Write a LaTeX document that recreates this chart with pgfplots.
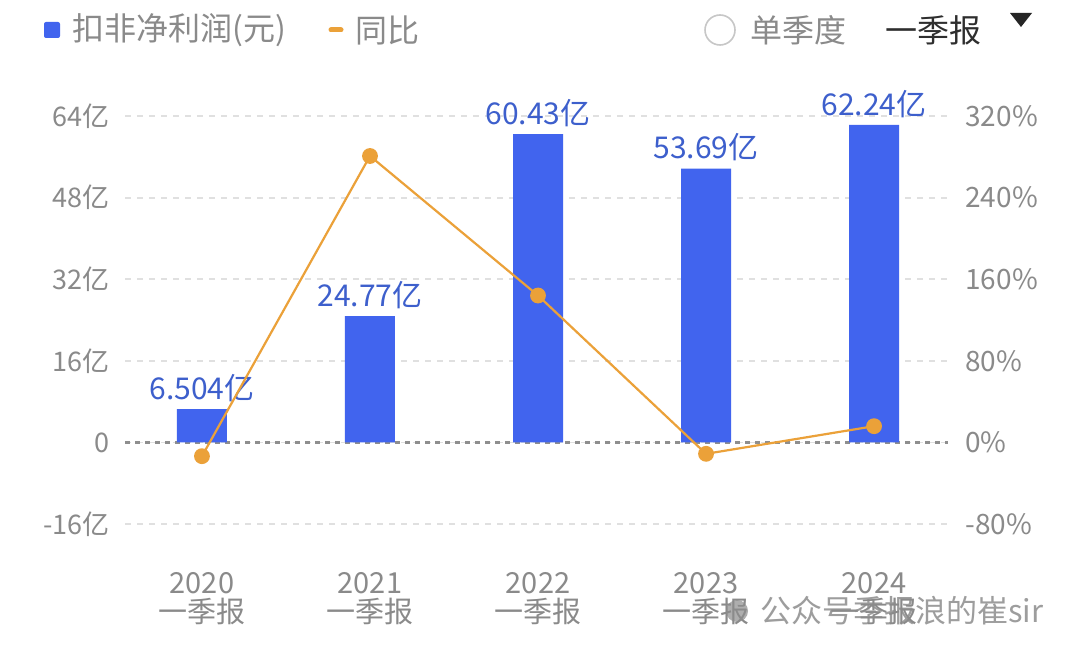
\documentclass[border=0pt]{standalone}
\usepackage{pgfplots}
\pgfplotsset{compat=1.18}
\usepackage{fontspec}
\setmainfont{Noto Sans CJK SC}
\definecolor{barblue}{HTML}{4164EE}
\definecolor{lblblue}{HTML}{3D5FCC}
\definecolor{lineorange}{HTML}{EBA139}
\definecolor{txtgray}{HTML}{8A8A8A}
\definecolor{gridgray}{HTML}{E0E0E0}
\definecolor{zerogray}{HTML}{8E8E8E}
\definecolor{darktxt}{HTML}{2E2E2E}
\begin{document}
\begin{tikzpicture}
\useasboundingbox[fill=white] (0pt,0pt) rectangle (540pt,327pt);
% legend
\fill[barblue, rounded corners=1pt] (22pt,308pt) rectangle (30pt,316pt);
\node[anchor=west, text=txtgray, font=\fontsize{16}{18}\selectfont, inner sep=0] at (36pt,312pt) {扣非净利润(元)};
\draw[lineorange, line width=2.5pt, line cap=round] (165.5pt,312pt) -- (170.5pt,312pt);
\node[anchor=west, text=txtgray, font=\fontsize{16}{18}\selectfont, inner sep=0] at (177.5pt,312pt) {同比};
\draw[black!22, line width=0.8pt] (360pt,312pt) circle (7.5pt);
\node[anchor=west, text=txtgray, font=\fontsize{16}{18}\selectfont, inner sep=0] at (375pt,312pt) {单季度};
\node[anchor=west, text=darktxt, font=\fontsize{16}{18}\selectfont, inner sep=0] at (442.5pt,312pt) {一季报};
\fill[black!85] (505pt,320.5pt) -- (516pt,320.5pt) -- (510.5pt,313.5pt) -- cycle;

\begin{axis}[
  at={(62.5pt,65pt)}, anchor=south west, scale only axis,
  width=411.5pt, height=204pt,
  xmin=-0.458, xmax=4.44, ymin=-16, ymax=64,
  axis line style={draw=none}, tick style={draw=none},
  xtick={0,1,2,3,4},
  xticklabels={2020\\一季报,2021\\一季报,2022\\一季报,2023\\一季报,2024\\一季报},
  xticklabel style={align=center, text=txtgray, font=\fontsize{14.5}{14.5}\selectfont, anchor=north, yshift=-20.5pt},
  ytick={-16,0,16,32,48,64},
  yticklabels={-16亿,0,16亿,32亿,48亿,64亿},
  yticklabel style={text=txtgray, font=\fontsize{13.5}{15}\selectfont, anchor=east, inner sep=0pt, xshift=-7.5pt},
  ymajorgrids, grid style={gridgray, line width=0.9pt, dash pattern=on 3pt off 3pt},
  clip=false,
]
\addplot[zerogray, line width=1.2pt, dash pattern=on 2.5pt off 2.5pt] coordinates {(-0.458,0) (4.44,0)};
\addplot[ybar, bar width=25pt, fill=barblue, draw=none,
  nodes near coords, point meta=explicit symbolic,
  nodes near coords style={text=lblblue, font=\fontsize{15}{16}\selectfont, anchor=center, yshift=10.5pt}]
  coordinates {(0,6.504)[6.504亿] (1,24.77)[24.77亿] (2,60.43)[60.43亿] (3,53.69)[53.69亿] (4,62.24)[62.24亿]};
\end{axis}

\begin{axis}[
  at={(62.5pt,65pt)}, anchor=south west, scale only axis,
  width=411.5pt, height=204pt,
  xmin=-0.458, xmax=4.44, ymin=-80, ymax=320,
  axis x line=none, axis y line*=right,
  axis line style={draw=none}, tick style={draw=none},
  ytick={-80,0,80,160,240,320},
  yticklabels={-80\%,0\%,80\%,160\%,240\%,320\%},
  yticklabel style={text=txtgray, font=\fontsize{14}{15}\selectfont, anchor=west, inner sep=0pt, xshift=8.5pt},
  clip=false,
]
\addplot[lineorange, line width=1.1pt, mark=*, mark size=3.4pt, mark options={fill=lineorange, draw=lineorange}]
  coordinates {(0,-13.5) (1,280.8) (2,144.0) (3,-11.2) (4,15.9)};
\end{axis}

% watermark
\fill[black!45, opacity=0.7] (368.5pt,21.5pt) circle (5.5pt);
\node[anchor=west, text=black!45, opacity=0.85, font=\fontsize{15.5}{17}\selectfont, inner sep=0] at (380pt,21.5pt) {公众号季报浪的崔sir};
\end{tikzpicture}
\end{document}
